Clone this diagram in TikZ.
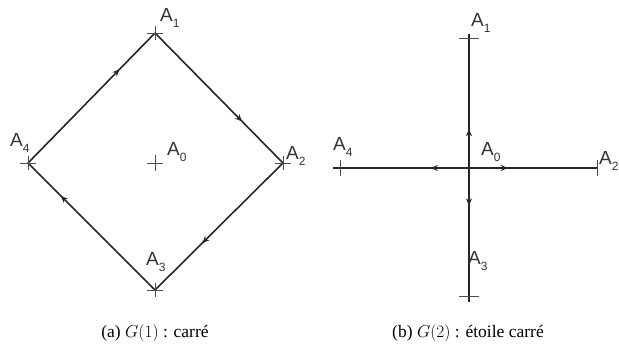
\documentclass[tikz,border=0pt]{standalone}
\usepackage{fontspec}
\setmainfont{Liberation Serif}
\newfontfamily\labfont{Liberation Sans}
\usetikzlibrary{arrows.meta,decorations.markings}
\newcommand{\lsub}[1]{\raisebox{-0.35em}{\fontsize{12}{12}\selectfont #1}}
\begin{document}
\begin{tikzpicture}[x=1pt,y=-1pt,
  edge/.style={draw=black!85,line width=1.6pt},
  marr/.style={postaction={decorate},decoration={markings,
     mark=at position #1 with {\arrow{Stealth[length=7pt,width=6pt]}}}},
  lab/.style={inner sep=0pt,text=black!80,font=\labfont\fontsize{19}{19}\selectfont},
  captext/.style={inner sep=0pt,font=\fontsize{17.5}{20}\selectfont},
  tick/.style={draw=black!70,line width=0.9pt}]
\useasboundingbox (0,0) rectangle (619,355);
% ---- (a) square
\coordinate (L0) at (155,163);
\coordinate (L1) at (155,33);
\coordinate (L2) at (283,163);
\coordinate (L3) at (155,290);
\coordinate (L4) at (28,163);
\draw[edge,marr=0.72] (L4) -- (L1);
\draw[edge,marr=0.68] (L1) -- (L2);
\draw[edge,marr=0.63] (L2) -- (L3);
\draw[edge,marr=0.74] (L3) -- (L4);
\foreach \p in {L1,L2,L3,L4}{
  \draw[tick] ([xshift=-8pt]\p) -- ([xshift=8pt]\p);
  \draw[tick] ([yshift=-7pt]\p) -- ([yshift=7pt]\p);}
\draw[tick] ([xshift=-8pt]L0) -- ([xshift=8pt]L0);
\draw[tick] ([yshift=-8pt]L0) -- ([yshift=8pt]L0);
\node[lab,anchor=west] (tL1) at (160,18) {A\lsub{1}};
\node[lab,anchor=west] (tL2) at (286,156) {A\lsub{2}};
\node[lab,anchor=west] (tL3) at (146,262) {A\lsub{3}};
\node[lab,anchor=west] (tL4) at (10,143) {A\lsub{4}};
\node[lab,anchor=west] (tL0) at (167,152) {A\lsub{0}};
\node[captext] (capa) at (155,333) {(a) $G(1)$ : carré};
% ---- (b) star
\coordinate (R0) at (469,168);
\coordinate (R1) at (469,38);
\coordinate (R2) at (597,168);
\coordinate (R3) at (469,296);
\coordinate (R4) at (340,168);
\coordinate (R1e) at (469,34);
\coordinate (R3e) at (469,302);
\coordinate (R4e) at (333,168);
\draw[edge] (R1e) -- (R3e);
\draw[edge] (R4e) -- (R2);
\draw[edge,line width=2.2pt,marr=0.72] (R0) -- ([yshift=-52pt]R0);
\draw[edge,line width=2.2pt,marr=0.72] (R0) -- ([yshift=54pt]R0);
\draw[edge,line width=2.2pt,marr=0.72] (R0) -- ([xshift=-53pt]R0);
\draw[edge,line width=2.2pt,marr=0.72] (R0) -- ([xshift=54pt]R0);
\draw[tick] ([xshift=-10pt]R1) -- ([xshift=10pt]R1);
\draw[tick] ([xshift=-10pt]R3) -- ([xshift=10pt]R3);
\draw[tick] ([yshift=-8pt]R4) -- ([yshift=8pt]R4);
\draw[tick] ([yshift=-8pt]R2) -- ([yshift=8pt]R2);
\node[lab,anchor=west] (tR1) at (471,23) {A\lsub{1}};
\node[lab,anchor=west] (tR2) at (599,161) {A\lsub{2}};
\node[lab,anchor=west] (tR3) at (468,261) {A\lsub{3}};
\node[lab,anchor=west] (tR4) at (333,147) {A\lsub{4}};
\node[lab,anchor=west] (tR0) at (481,152) {A\lsub{0}};
\node[captext] (capb) at (468,333) {(b) $G(2)$ : étoile carré};
\end{tikzpicture}
\end{document}
